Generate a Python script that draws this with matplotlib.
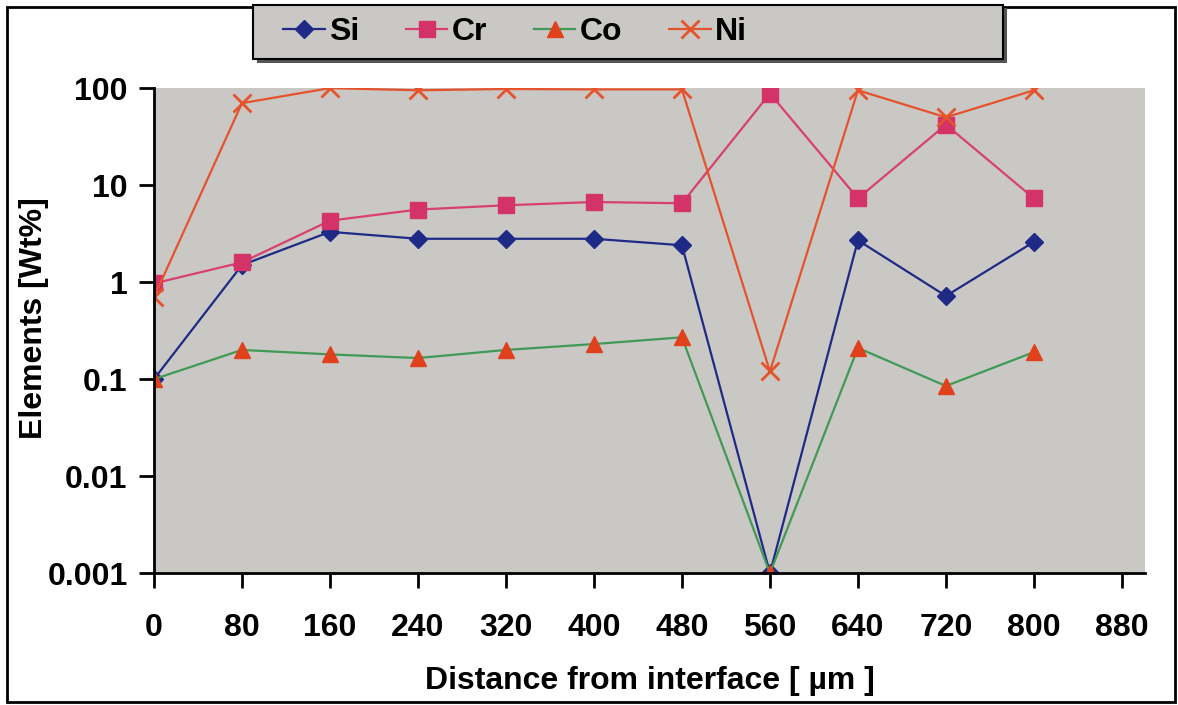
import matplotlib.pyplot as plt
from matplotlib.patches import Rectangle

# Data
distance = [0, 80, 160, 240, 320, 400, 480, 560, 640, 720, 800]
si = [0.1, 1.5, 3.3, 2.8, 2.8, 2.8, 2.4, 0.001, 2.7, 0.72, 2.6]
cr = [0.97, 1.6, 4.3, 5.6, 6.2, 6.7, 6.5, 88, 7.3, 42, 7.3]
co = [0.1, 0.2, 0.18, 0.165, 0.2, 0.23, 0.27, 0.001, 0.21, 0.085, 0.19]
ni = [0.7, 70, 100, 95, 98, 97, 97, 0.12, 95, 50, 95]
x_ticks = [0, 80, 160, 240, 320, 400, 480, 560, 640, 720, 800, 880]
y_ticks = [0.001, 0.01, 0.1, 1, 10, 100]
y_tick_labels = ["0.001", "0.01", "0.1", "1", "10", "100"]

plt.rcParams['font.family'] = ['Liberation Sans', 'DejaVu Sans']
plt.rcParams['font.weight'] = 'bold'

fig = plt.figure(figsize=(11.78, 7.05), dpi=100)
ax = fig.add_axes([0.1307, 0.187, 0.972 - 0.1307, 0.875 - 0.187])
ax.set_facecolor('#cac8c5')

ax.plot(distance, si, '-', color='#1f2a86', lw=1.6, marker='D', ms=9,
        mfc='#1f2a86', mec='#1f2a86', label='Si')
ax.plot(distance, cr, '-', color='#d8406e', lw=1.6, marker='s', ms=12,
        mfc='#d4336a', mec='#d4336a', label='Cr')
ax.plot(distance, co, '-', color='#3f9a55', lw=1.6, marker='^', ms=12,
        mfc='#e0401c', mec='#e0401c', label='Co')
ax.plot(distance, ni, '-', color='#e5532c', lw=1.6, marker='x', ms=13,
        mew=2, mec='#e5532c', label='Ni')

ax.set_yscale('log')
ax.set_ylim(0.001, 100)
ax.set_xlim(0, 901)
ax.set_yticks(y_ticks)
ax.set_yticklabels(y_tick_labels)
ax.minorticks_off()
ax.set_xticks(x_ticks)
ax.tick_params(axis='both', labelsize=23, length=11, width=2, direction='out', pad=8)
ax.tick_params(axis='x', pad=18)
for s in ['top', 'right']:
    ax.spines[s].set_visible(False)
for s in ['left', 'bottom']:
    ax.spines[s].set_linewidth(2)

ax.set_xlabel('Distance from interface [ µm ]', fontsize=23, fontweight='bold', labelpad=16)
ax.set_ylabel('Elements [Wt%]', fontsize=23, fontweight='bold')
ax.yaxis.set_label_coords(-0.106, 0.526)

# legend box (drawn separately) with shadow
fig.patches.append(Rectangle((257 / 1178, 1 - 63 / 705), 750 / 1178, 55 / 705,
                             transform=fig.transFigure, facecolor='#555555',
                             edgecolor='none', zorder=1))
fig.patches.append(Rectangle((253 / 1178, 1 - 59 / 705), 750 / 1178, 54 / 705,
                             transform=fig.transFigure, facecolor='#cac8c5',
                             edgecolor='black', lw=1.5, zorder=2))
leg = fig.legend(loc='center left', ncol=4,
                 bbox_to_anchor=(283 / 1178, 1 - 32 / 705),
                 fontsize=23, frameon=False,
                 handlelength=1.3, handletextpad=0.15, columnspacing=1.45,
                 borderaxespad=0, borderpad=0)
leg.set_zorder(3)

# outer frame
fig.patches.append(Rectangle((7 / 1178, 3 / 705), 1168 / 1178, 695 / 705,
                             transform=fig.transFigure, fill=False,
                             edgecolor='black', lw=2, zorder=0))

fig.savefig('out.png', dpi=100)
